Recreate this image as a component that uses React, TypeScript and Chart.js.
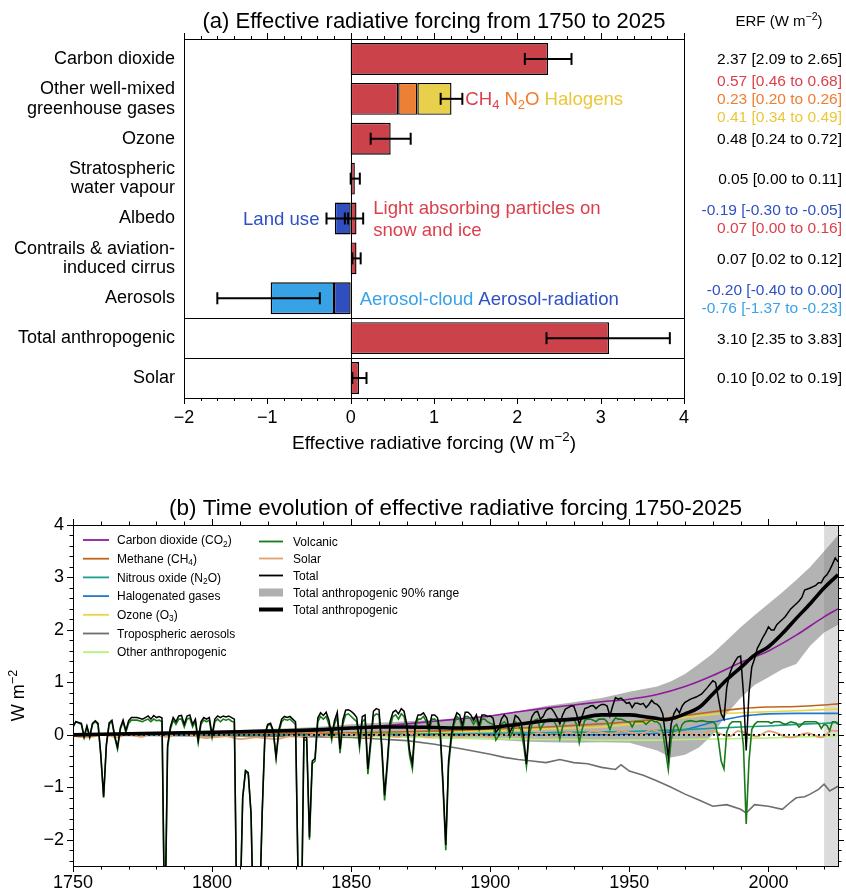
import React, { useEffect, useRef } from 'react';
import { Chart, registerables } from 'chart.js';
Chart.register(...registerables);

const FONT = '"Liberation Sans", Arial, Helvetica, sans-serif';

// ---------------- Panel (a) data ----------------
const barCategories: string[][] = [
  ['Carbon dioxide'],
  ['Other well-mixed', 'greenhouse gases'],
  ['Ozone'],
  ['Stratospheric', 'water vapour'],
  ['Albedo'],
  ['Contrails & aviation-', 'induced cirrus'],
  ['Aerosols'],
  ['Total anthropogenic'],
  ['Solar'],
];
const redValues = [2.37, 0.57, 0.48, 0.05, 0.07, 0.07, null, 3.1, 0.1];
const n2oValues = [null, 0.23, null, null, null, null, null, null, null];
const halogenValues = [null, 0.41, null, null, null, null, null, null, null];
const darkBlueValues = [null, null, null, null, -0.19, null, -0.2, null, null];
const lightBlueValues = [null, null, null, null, null, null, -0.76, null, null];

const errorRow = [0, 1, 2, 3, 4, 4, 5, 6, 7, 8];
const errorLow = [2.09, 1.08, 0.24, 0.0, -0.29, -0.07, 0.02, -1.6, 2.35, 0.02];
const errorHigh = [2.65, 1.34, 0.72, 0.11, -0.03, 0.15, 0.12, -0.37, 3.83, 0.19];

const erfRow = [0, 1, 1, 1, 2, 3, 4, 4, 5, 6, 6, 7, 8];
const erfComponent = ['co2', 'ch4', 'n2o', 'halogens', 'ozone', 'h2o', 'landUse', 'lap', 'contrails', 'aerRad', 'aerCloud', 'total', 'solar'];
const erfValue = [2.37, 0.57, 0.23, 0.41, 0.48, 0.05, -0.19, 0.07, 0.07, -0.2, -0.76, 3.1, 0.1];
const erfLow = [2.09, 0.46, 0.2, 0.34, 0.24, 0.0, -0.3, 0.0, 0.02, -0.4, -1.37, 2.35, 0.02];
const erfHigh = [2.65, 0.68, 0.26, 0.49, 0.72, 0.11, -0.05, 0.16, 0.12, 0.0, -0.23, 3.83, 0.19];

const forcingTicks = [-2, -1, 0, 1, 2, 3, 4];

// ---------------- Panel (b) data ----------------
const decadeYears = [1750, 1760, 1770, 1780, 1790, 1800, 1810, 1820, 1830, 1840, 1850, 1860, 1870, 1880, 1890, 1900,
  1910, 1920, 1930, 1940, 1950, 1960, 1970, 1980, 1990, 2000, 2010, 2020, 2025];
const co2Values = [0, 0.01, 0.01, 0.02, 0.03, 0.04, 0.05, 0.06, 0.08, 0.1, 0.13, 0.17, 0.21, 0.26, 0.31, 0.36,
  0.44, 0.51, 0.57, 0.63, 0.68, 0.77, 0.92, 1.13, 1.38, 1.6, 1.9, 2.25, 2.4];
const ch4Values = [0, 0, 0.005, 0.01, 0.01, 0.015, 0.02, 0.02, 0.025, 0.03, 0.04, 0.05, 0.06, 0.07, 0.09, 0.11,
  0.13, 0.15, 0.18, 0.21, 0.25, 0.3, 0.37, 0.44, 0.5, 0.53, 0.54, 0.57, 0.59];
const n2oSeries = [0, 0, 0, 0, 0.002, 0.003, 0.004, 0.005, 0.006, 0.008, 0.01, 0.012, 0.015, 0.018, 0.022, 0.027,
  0.033, 0.04, 0.047, 0.055, 0.065, 0.08, 0.1, 0.125, 0.15, 0.17, 0.2, 0.22, 0.24];
const halogenSeries = [0, 0, 0, 0, 0, 0, 0, 0, 0, 0, 0, 0, 0, 0, 0, 0,
  0, 0, 0, 0.002, 0.01, 0.03, 0.1, 0.24, 0.35, 0.4, 0.41, 0.41, 0.41];
const ozoneSeries = [0, 0.002, 0.004, 0.006, 0.008, 0.01, 0.012, 0.015, 0.02, 0.025, 0.03, 0.035, 0.04, 0.05, 0.06, 0.07,
  0.09, 0.11, 0.13, 0.15, 0.2, 0.26, 0.33, 0.39, 0.42, 0.44, 0.46, 0.48, 0.49];
const otherSeries = [0, -0.002, -0.004, -0.006, -0.008, -0.01, -0.012, -0.015, -0.018, -0.022, -0.03, -0.035, -0.045, -0.055, -0.065, -0.07,
  -0.08, -0.09, -0.09, -0.1, -0.1, -0.1, -0.09, -0.08, -0.07, -0.06, -0.04, -0.03, -0.02];

const aerosolSeries: [number, number][] = [
  [1750, 0], [1760, -0.005], [1770, -0.01], [1780, -0.01], [1790, -0.015], [1800, -0.02], [1810, -0.02], [1820, -0.025],
  [1830, -0.03], [1840, -0.04], [1850, -0.05], [1860, -0.08], [1870, -0.11], [1880, -0.18], [1890, -0.27], [1900, -0.37],
  [1905, -0.43], [1910, -0.47], [1915, -0.5], [1920, -0.53], [1925, -0.47], [1930, -0.53], [1935, -0.55], [1940, -0.62],
  [1945, -0.66], [1947, -0.57], [1950, -0.69], [1955, -0.77], [1960, -0.88], [1965, -1.0], [1970, -1.13], [1975, -1.24],
  [1980, -1.36], [1985, -1.33], [1990, -1.42], [1992, -1.49], [1995, -1.33], [2000, -1.36], [2005, -1.42], [2008, -1.28],
  [2010, -1.2], [2013, -1.18], [2015, -1.13], [2018, -1.04], [2020, -0.94], [2022, -1.07], [2025, -0.98],
];

const solarSeries: [number, number][] = [
  [1750, -0.02], [1755, -0.05], [1761, 0.0], [1766, -0.05], [1769, 0.01], [1775, -0.04], [1778, 0.03], [1784, -0.04],
  [1788, 0.03], [1798, -0.06], [1805, -0.03], [1810, -0.08], [1816, -0.05], [1823, -0.08], [1830, -0.01], [1833, -0.05],
  [1837, 0.02], [1843, -0.04], [1848, 0.02], [1856, -0.04], [1860, 0.01], [1867, -0.04], [1870, 0.03], [1878, -0.04],
  [1883, 0.0], [1889, -0.04], [1894, 0.0], [1901, -0.04], [1906, 0.01], [1913, -0.04], [1917, 0.03], [1923, -0.02],
  [1928, 0.04], [1933, 0.0], [1937, 0.07], [1944, 0.01], [1947, 0.08], [1954, 0.0], [1958, 0.1], [1964, -0.01],
  [1968, 0.06], [1976, -0.02], [1979, 0.08], [1986, -0.03], [1989, 0.07], [1996, -0.03], [2000, 0.07], [2008, -0.05],
  [2014, 0.03], [2019, -0.05], [2023, 0.08], [2025, 0.07],
];

const anthroSeries: [number, number][] = [
  [1750, 0], [1760, 0.01], [1770, 0.02], [1780, 0.03], [1790, 0.04], [1800, 0.05], [1810, 0.06], [1820, 0.07],
  [1830, 0.08], [1840, 0.1], [1850, 0.13], [1860, 0.15], [1870, 0.15], [1880, 0.14], [1890, 0.13], [1900, 0.14],
  [1910, 0.2], [1920, 0.27], [1930, 0.3], [1940, 0.38], [1950, 0.38], [1955, 0.35], [1960, 0.31], [1963, 0.29],
  [1966, 0.32], [1970, 0.4], [1975, 0.52], [1980, 0.78], [1985, 1.05], [1990, 1.28], [1995, 1.52], [2000, 1.68],
  [2005, 1.93], [2010, 2.22], [2015, 2.5], [2020, 2.8], [2025, 3.05],
];

// [year, upper 95th, lower 5th]
const anthroRange: [number, number, number][] = [
  [1750, 0, 0], [1760, 0.01, 0], [1770, 0.02, 0], [1780, 0.03, 0], [1790, 0.05, 0], [1800, 0.07, 0], [1810, 0.09, 0],
  [1820, 0.11, 0], [1830, 0.13, 0], [1840, 0.16, -0.01], [1850, 0.2, -0.02], [1860, 0.23, -0.04], [1870, 0.26, -0.05],
  [1880, 0.29, -0.07], [1890, 0.32, -0.08], [1900, 0.36, -0.09], [1910, 0.45, -0.12], [1920, 0.55, -0.14],
  [1930, 0.62, -0.15], [1940, 0.7, -0.14], [1950, 0.82, -0.15], [1960, 0.92, -0.3], [1965, 1.02, -0.43],
  [1970, 1.16, -0.38], [1975, 1.35, -0.24], [1980, 1.55, 0.0], [1985, 1.8, 0.4], [1990, 2.05, 0.7], [1995, 2.28, 0.95],
  [2000, 2.5, 1.1], [2005, 2.72, 1.25], [2010, 2.95, 1.35], [2015, 3.2, 1.7], [2020, 3.5, 1.95], [2025, 3.8, 2.1],
];

const volcanicSeries: [number, number][] = [
  [1750, 0.15], [1751, 0.25], [1753, 0.2], [1754, -0.05], [1755, 0.15], [1756, -0.05], [1757, 0.2], [1758, 0.25],
  [1759, 0.2], [1760, -0.4], [1761, -1.2], [1762, -0.2], [1763, 0.2], [1764, 0.25], [1765, -0.05], [1766, -0.27],
  [1767, 0.1], [1768, 0.25], [1769, 0.05], [1770, 0.22], [1771, 0.28], [1773, 0.28], [1775, 0.25], [1776, 0.28],
  [1777, 0.3], [1778, 0.25], [1779, 0.3], [1780, 0.27], [1781, 0.28], [1782, 0.25], [1783, -4.0], [1784, -0.25],
  [1785, 0.1], [1786, 0.28], [1787, 0.2], [1788, 0.3], [1789, 0.3], [1790, 0.15], [1791, 0.3], [1792, 0.32],
  [1793, 0.15], [1794, 0.25], [1795, -0.15], [1796, 0.2], [1797, 0.28], [1798, 0.25], [1799, 0.28], [1800, -0.05],
  [1801, 0.25], [1802, 0.3], [1803, 0.25], [1804, 0.3], [1805, 0.28], [1806, 0.3], [1807, 0.26], [1808, 0.24],
  [1809, -4.0], [1810, -3.5], [1811, -1.2], [1812, -0.7], [1813, -0.75], [1814, -1.5], [1815, -4.0], [1816, -4.0],
  [1817, -3.5], [1818, -1.5], [1819, 0.0], [1820, 0.18], [1821, 0.2], [1822, 0.05], [1823, -0.45], [1824, 0.05],
  [1825, 0.25], [1826, 0.3], [1827, 0.28], [1828, 0.3], [1829, 0.25], [1830, 0.2], [1831, -3.0], [1832, -4.0],
  [1833, -0.1], [1834, -0.1], [1835, -2.0], [1836, -0.55], [1837, -0.5], [1838, 0.25], [1839, 0.35], [1840, 0.3],
  [1841, 0.35], [1842, 0.2], [1843, -0.1], [1844, 0.2], [1845, 0.35], [1846, -0.35], [1847, 0.2], [1848, 0.38],
  [1849, 0.4], [1850, 0.35], [1851, 0.3], [1852, 0.25], [1853, -0.25], [1854, 0.25], [1855, 0.3], [1856, -0.75],
  [1857, -0.2], [1858, 0.35], [1859, 0.4], [1860, 0.38], [1861, -0.3], [1862, -1.25], [1863, -0.6], [1864, 0.15],
  [1865, 0.35], [1866, 0.38], [1867, 0.3], [1868, 0.4], [1869, 0.35], [1870, 0.1], [1871, -0.4], [1872, -0.65],
  [1873, 0.1], [1874, 0.3], [1875, 0.3], [1876, 0.35], [1877, 0.25], [1878, 0.05], [1879, 0.3], [1880, 0.3],
  [1881, 0.25], [1882, 0.0], [1883, -1.0], [1884, -2.2], [1885, -0.6], [1886, -0.1], [1887, 0.2], [1888, 0.35],
  [1889, 0.3], [1890, 0.1], [1891, 0.35], [1892, 0.35], [1893, 0.3], [1894, 0.2], [1895, 0.3], [1896, 0.1],
  [1897, 0.3], [1898, 0.3], [1899, 0.25], [1900, 0.22], [1901, 0.2], [1902, -0.1], [1903, -0.02], [1904, 0.2],
  [1905, 0.25], [1906, 0.2], [1907, -0.05], [1908, 0.05], [1909, 0.25], [1910, 0.2], [1911, 0.1], [1912, -0.2],
  [1913, -0.6], [1914, 0.0], [1915, 0.2], [1916, 0.28], [1917, 0.3], [1918, 0.1], [1919, 0.2], [1920, 0.28],
  [1921, 0.3], [1922, 0.3], [1923, 0.25], [1924, 0.15], [1925, -0.08], [1926, 0.15], [1927, 0.28], [1928, 0.3],
  [1929, 0.3], [1930, 0.3], [1931, 0.2], [1932, -0.15], [1933, 0.1], [1934, 0.28], [1935, 0.3], [1936, 0.3],
  [1937, 0.28], [1938, 0.25], [1939, 0.3], [1940, 0.3], [1941, 0.3], [1942, 0.25], [1943, 0.1], [1944, 0.25],
  [1945, 0.32], [1946, 0.3], [1947, 0.3], [1948, 0.28], [1949, 0.25], [1950, 0.25], [1951, 0.15], [1952, 0.25],
  [1953, 0.25], [1954, 0.25], [1955, 0.25], [1956, 0.2], [1957, 0.25], [1958, 0.28], [1959, 0.25], [1960, 0.25],
  [1961, 0.2], [1962, 0.05], [1963, -0.3], [1964, -0.66], [1965, -0.1], [1966, 0.15], [1967, 0.2], [1968, 0.05],
  [1969, 0.2], [1970, 0.25], [1972, 0.27], [1974, 0.25], [1976, 0.27], [1978, 0.25], [1980, 0.25], [1981, 0.2],
  [1982, -0.1], [1983, -0.5], [1984, -0.65], [1985, 0.05], [1986, 0.2], [1987, 0.25], [1988, 0.25], [1989, 0.25],
  [1990, 0.25], [1991, -0.2], [1992, -1.7], [1993, -0.5], [1994, 0.1], [1995, 0.2], [1996, 0.25], [1997, 0.25],
  [1998, 0.25], [1999, 0.25], [2000, 0.25], [2001, 0.22], [2002, 0.25], [2003, 0.25], [2004, 0.25], [2005, 0.22],
  [2006, 0.2], [2008, 0.25], [2010, 0.22], [2011, 0.15], [2012, 0.2], [2013, 0.25], [2015, 0.25], [2017, 0.25],
  [2018, 0.22], [2019, 0.12], [2020, 0.2], [2021, 0.18], [2022, 0.08], [2023, 0.25], [2024, 0.25], [2025, 0.2],
];

const totalSeries: [number, number][] = [
  [1750, 0.15], [1751, 0.25], [1753, 0.22], [1754, -0.03], [1755, 0.17], [1756, -0.03], [1757, 0.22], [1758, 0.27],
  [1759, 0.22], [1760, -0.38], [1761, -1.18], [1762, -0.18], [1763, 0.23], [1764, 0.28], [1765, -0.02], [1766, -0.24],
  [1767, 0.13], [1768, 0.28], [1769, 0.08], [1770, 0.27], [1771, 0.33], [1773, 0.33], [1775, 0.3], [1776, 0.33],
  [1777, 0.36], [1778, 0.3], [1779, 0.37], [1780, 0.33], [1781, 0.35], [1782, 0.32], [1783, -3.9], [1784, -0.2],
  [1785, 0.15], [1786, 0.33], [1787, 0.25], [1788, 0.36], [1789, 0.37], [1790, 0.2], [1791, 0.36], [1792, 0.38],
  [1793, 0.2], [1794, 0.3], [1795, -0.1], [1796, 0.25], [1797, 0.33], [1798, 0.3], [1799, 0.33], [1800, 0.0],
  [1801, 0.3], [1802, 0.36], [1803, 0.33], [1804, 0.36], [1805, 0.34], [1806, 0.36], [1807, 0.33], [1808, 0.3],
  [1809, -4.0], [1810, -3.5], [1811, -1.2], [1812, -0.68], [1813, -0.72], [1814, -1.5], [1815, -4.0], [1816, -4.0],
  [1817, -3.5], [1818, -1.5], [1819, 0.02], [1820, 0.2], [1821, 0.22], [1822, 0.08], [1823, -0.42], [1824, 0.1],
  [1825, 0.3], [1826, 0.35], [1827, 0.33], [1828, 0.35], [1829, 0.3], [1830, 0.25], [1831, -3.0], [1832, -4.0],
  [1833, -0.05], [1834, -0.05], [1835, -1.95], [1836, -0.5], [1837, -0.45], [1838, 0.32], [1839, 0.42], [1840, 0.37],
  [1841, 0.43], [1842, 0.28], [1843, -0.02], [1844, 0.27], [1845, 0.43], [1846, -0.27], [1847, 0.28], [1848, 0.47],
  [1849, 0.48], [1850, 0.45], [1851, 0.4], [1852, 0.33], [1853, -0.15], [1854, 0.35], [1855, 0.38], [1856, -0.65],
  [1857, -0.1], [1858, 0.45], [1859, 0.5], [1860, 0.48], [1861, -0.2], [1862, -1.15], [1863, -0.5], [1864, 0.25],
  [1865, 0.43], [1866, 0.47], [1867, 0.4], [1868, 0.5], [1869, 0.45], [1870, 0.2], [1871, -0.3], [1872, -0.55],
  [1873, 0.2], [1874, 0.38], [1875, 0.38], [1876, 0.42], [1877, 0.33], [1878, 0.13], [1879, 0.38], [1880, 0.38],
  [1881, 0.33], [1882, 0.08], [1883, -0.9], [1884, -2.1], [1885, -0.5], [1886, 0.0], [1887, 0.28], [1888, 0.42],
  [1889, 0.38], [1890, 0.18], [1891, 0.43], [1892, 0.43], [1893, 0.38], [1894, 0.28], [1895, 0.38], [1896, 0.18],
  [1897, 0.38], [1898, 0.38], [1899, 0.35], [1900, 0.36], [1901, 0.32], [1902, 0.05], [1903, 0.11], [1904, 0.3],
  [1905, 0.38], [1906, 0.32], [1907, 0.04], [1908, 0.15], [1909, 0.37], [1910, 0.33], [1911, 0.25], [1912, -0.05],
  [1913, -0.56], [1914, 0.15], [1915, 0.35], [1916, 0.43], [1917, 0.45], [1918, 0.3], [1919, 0.35], [1920, 0.46],
  [1921, 0.5], [1922, 0.5], [1923, 0.43], [1924, 0.33], [1925, 0.21], [1926, 0.38], [1927, 0.49], [1928, 0.52],
  [1929, 0.55], [1930, 0.55], [1931, 0.4], [1932, 0.2], [1933, 0.35], [1934, 0.5], [1935, 0.52], [1936, 0.55],
  [1937, 0.56], [1938, 0.5], [1939, 0.55], [1940, 0.58], [1941, 0.58], [1942, 0.55], [1943, 0.36], [1944, 0.55],
  [1945, 0.71], [1946, 0.68], [1947, 0.7], [1948, 0.65], [1949, 0.6], [1950, 0.62], [1951, 0.52], [1952, 0.6],
  [1953, 0.6], [1954, 0.58], [1955, 0.6], [1956, 0.52], [1957, 0.58], [1958, 0.66], [1959, 0.6], [1960, 0.58],
  [1961, 0.52], [1962, 0.4], [1963, 0.0], [1964, -0.43], [1965, 0.2], [1966, 0.4], [1967, 0.5], [1968, 0.42],
  [1969, 0.55], [1970, 0.62], [1972, 0.68], [1974, 0.72], [1976, 0.78], [1978, 0.9], [1980, 1.03], [1981, 1.0],
  [1982, 0.7], [1983, 0.4], [1984, 0.3], [1985, 0.9], [1986, 1.15], [1987, 1.3], [1988, 1.4], [1989, 1.48],
  [1990, 1.5], [1991, 0.8], [1992, -0.3], [1993, 0.8], [1994, 1.29], [1995, 1.45], [1996, 1.65], [1997, 1.75],
  [1998, 1.86], [1999, 1.95], [2000, 2.06], [2001, 2.0], [2002, 2.0], [2003, 2.1], [2004, 2.15], [2005, 2.2],
  [2006, 2.25], [2008, 2.4], [2010, 2.5], [2011, 2.55], [2012, 2.62], [2013, 2.76], [2015, 2.8], [2017, 2.85],
  [2018, 2.9], [2019, 2.9], [2020, 3.0], [2021, 3.05], [2022, 3.14], [2023, 3.25], [2024, 3.37], [2025, 3.3],
];

const yearTicks = [1750, 1800, 1850, 1900, 1950, 2000];
const wTicks = [-2, -1, 0, 1, 2, 3, 4];
const shadeStartYear = 2020;

const legendCol1 = ['Carbon dioxide (CO_{2})', 'Methane (CH_{4})', 'Nitrous oxide (N_{2}O)', 'Halogenated gases', 'Ozone (O_{3})', 'Tropospheric aerosols', 'Other anthropogenic'];
const legendCol2 = ['Volcanic', 'Solar', 'Total', 'Total anthropogenic 90% range', 'Total anthropogenic'];

// ---------------- styles ----------------
const COL = {
  red: '#cc424b', orange: '#ec8034', yellow: '#e8d04c', darkBlue: '#2f4fbf', lightBlue: '#37a2e6',
};
const ERF_TEXT: Record<string, string> = {
  co2: '#000', ch4: '#dc3f4b', n2o: '#f07d2c', halogens: '#ecc73a', ozone: '#000', h2o: '#000',
  landUse: '#2f50c4', lap: '#dc3f4b', contrails: '#000', aerRad: '#2f50c4', aerCloud: '#38a2e8', total: '#000', solar: '#000',
};
const LINE = {
  co2: '#8e1b9b', ch4: '#c0631b', n2o: '#1b9e8e', halo: '#1f78d2', o3: '#e8d640', aer: '#6e6e6e', other: '#b3f27a',
  volc: '#187a18', solar: '#e2a06c', total: '#000', band: 'rgba(120,120,120,0.56)',
};

const A_H = 460, A_LEFT = 184, A_RIGHT = 684, A_TOP = 39, A_BOTTOM = 398;
const B_H = 431, B_LEFT = 73, B_RIGHT = 838, B_TOP = 65, B_BOTTOM = 406;

// ---------------- helpers ----------------
const minus = (v: number) => (v < 0 ? '\u2212' + String(Math.abs(v)) : String(v));

type Part = { t: string; k: number };
function parseRich(s: string): Part[] {
  const out: Part[] = [];
  const re = /([_^])\{([^}]*)\}/g;
  let last = 0;
  let m: RegExpExecArray | null;
  while ((m = re.exec(s))) {
    if (m.index > last) out.push({ t: s.slice(last, m.index), k: 0 });
    out.push({ t: m[2], k: m[1] === '^' ? 1 : -1 });
    last = re.lastIndex;
  }
  if (last < s.length) out.push({ t: s.slice(last), k: 0 });
  return out;
}
function richWidth(ctx: CanvasRenderingContext2D, s: string, size: number) {
  let w = 0;
  for (const p of parseRich(s)) {
    ctx.font = `${p.k ? size * 0.7 : size}px ${FONT}`;
    w += ctx.measureText(p.t).width;
  }
  return w;
}
function drawRich(ctx: CanvasRenderingContext2D, s: string, x: number, y: number, size: number, color: string, align = 'left') {
  const w = richWidth(ctx, s, size);
  let cx = align === 'left' ? x : align === 'center' ? x - w / 2 : x - w;
  ctx.save();
  ctx.fillStyle = color;
  ctx.textAlign = 'left';
  ctx.textBaseline = 'alphabetic';
  const base = y + size * 0.35;
  for (const p of parseRich(s)) {
    ctx.font = `${p.k ? size * 0.7 : size}px ${FONT}`;
    const dy = p.k === 1 ? -size * 0.4 : p.k === -1 ? size * 0.2 : 0;
    ctx.fillText(p.t, cx, base + dy);
    cx += ctx.measureText(p.t).width;
  }
  ctx.restore();
  return w;
}
function line(ctx: CanvasRenderingContext2D, x1: number, y1: number, x2: number, y2: number) {
  ctx.beginPath();
  ctx.moveTo(x1, y1);
  ctx.lineTo(x2, y2);
  ctx.stroke();
}

// ---------------- Panel (a) ----------------
function PanelA() {
  const ref = useRef<HTMLCanvasElement>(null);
  useEffect(() => {
    const decor = {
      id: 'panelADecor',
      afterDraw(chart: any) {
        const { ctx, chartArea: a } = chart;
        const xs = chart.scales.x, ys = chart.scales.y;
        ctx.save();
        ctx.strokeStyle = '#000';
        ctx.lineWidth = 1;
        for (const k of [6.5, 7.5]) {
          const y = Math.round(ys.getPixelForValue(k)) + 0.5;
          line(ctx, a.left, y, a.right, y);
        }
        const x0 = Math.round(xs.getPixelForValue(0)) + 0.5;
        line(ctx, x0, a.top, x0, a.bottom);
        ctx.strokeRect(Math.round(a.left) + 0.5, Math.round(a.top) + 0.5, Math.round(a.right - a.left), Math.round(a.bottom - a.top));
        for (let i = 0; i <= 30; i++) {
          const v = -2 + i * 0.2;
          const x = Math.round(xs.getPixelForValue(v)) + 0.5;
          const len = i % 5 === 0 ? 6 : 3;
          line(ctx, x, a.top, x, a.top - len);
          line(ctx, x, a.bottom, x, a.bottom + len);
        }
        ctx.fillStyle = '#000';
        ctx.font = `18px ${FONT}`;
        ctx.textAlign = 'center';
        ctx.textBaseline = 'middle';
        for (const v of forcingTicks) ctx.fillText(minus(v), xs.getPixelForValue(v), a.bottom + 20);
        ctx.textAlign = 'right';
        barCategories.forEach((lines, i) => {
          const yc = ys.getPixelForValue(i);
          lines.forEach((t, j) => ctx.fillText(t, a.left - 9, yc + (j - (lines.length - 1) / 2) * 19.5));
        });
        ctx.lineWidth = 2;
        ctx.strokeStyle = '#000';
        errorRow.forEach((r, i) => {
          const y = ys.getPixelForValue(r);
          const x1 = xs.getPixelForValue(errorLow[i]);
          const x2 = xs.getPixelForValue(errorHigh[i]);
          line(ctx, x1, y, x2, y);
          line(ctx, x1, y - 6, x1, y + 6);
          line(ctx, x2, y - 6, x2, y + 6);
        });
        const counts: Record<number, number> = {};
        erfRow.forEach((r) => (counts[r] = (counts[r] || 0) + 1));
        const seen: Record<number, number> = {};
        erfRow.forEach((r, i) => {
          const j = seen[r] || 0;
          seen[r] = j + 1;
          const y = ys.getPixelForValue(r) + (j - (counts[r] - 1) / 2) * 18;
          const s = `${erfValue[i].toFixed(2)} [${erfLow[i].toFixed(2)} to ${erfHigh[i].toFixed(2)}]`;
          drawRich(ctx, s, 842, y, 15.5, ERF_TEXT[erfComponent[i]], 'right');
        });
        drawRich(ctx, 'ERF (W m^{\u22122})', 779, 21, 15, '#000', 'center');
        drawRich(ctx, '(a) Effective radiative forcing from 1750 to 2025', (a.left + a.right) / 2, 20, 22, '#000', 'center');
        drawRich(ctx, 'Effective radiative forcing (W m^{\u22122})', (a.left + a.right) / 2, a.bottom + 44, 19, '#000', 'center');
        let ax = xs.getPixelForValue(errorHigh[1]) + 3;
        const yW = ys.getPixelForValue(1);
        const AS = 18.6;
        ax += drawRich(ctx, 'CH_{4}', ax, yW, AS, ERF_TEXT.ch4);
        ax += 5;
        ax += drawRich(ctx, 'N_{2}O', ax, yW, AS, ERF_TEXT.n2o);
        ax += 5;
        drawRich(ctx, 'Halogens', ax, yW, AS, ERF_TEXT.halogens);
        const yAl = ys.getPixelForValue(4);
        drawRich(ctx, 'Land use', xs.getPixelForValue(errorLow[4]) - 7, yAl, AS, ERF_TEXT.landUse, 'right');
        const lx = xs.getPixelForValue(errorHigh[5]) + 10;
        drawRich(ctx, 'Light absorbing particles on', lx, yAl - 11, AS, ERF_TEXT.lap);
        drawRich(ctx, 'snow and ice', lx, yAl + 11, AS, ERF_TEXT.lap);
        const yAe = ys.getPixelForValue(6);
        let bx = xs.getPixelForValue(0) + 9;
        bx += drawRich(ctx, 'Aerosol-cloud', bx, yAe, AS, ERF_TEXT.aerCloud);
        bx += 5;
        drawRich(ctx, 'Aerosol-radiation', bx, yAe, AS, ERF_TEXT.aerRad);
        ctx.restore();
      },
    };
    const common = { borderColor: '#000', borderWidth: 1.4, borderSkipped: false, barPercentage: 0.8, categoryPercentage: 1 };
    const chart = new Chart(ref.current as HTMLCanvasElement, {
      type: 'bar',
      data: {
        labels: barCategories,
        datasets: [
          { data: redValues, backgroundColor: COL.red, ...common },
          { data: n2oValues, backgroundColor: COL.orange, ...common },
          { data: halogenValues, backgroundColor: COL.yellow, ...common },
          { data: darkBlueValues, backgroundColor: COL.darkBlue, ...common },
          { data: lightBlueValues, backgroundColor: COL.lightBlue, ...common },
        ] as any,
      },
      options: {
        indexAxis: 'y',
        animation: false,
        responsive: false,
        events: [],
        layout: { padding: { left: 0, right: 846 - A_RIGHT, top: A_TOP, bottom: 0 } },
        plugins: { legend: { display: false }, tooltip: { enabled: false } },
        scales: {
          x: {
            type: 'linear', stacked: true, min: -2, max: 4,
            grid: { display: false, drawTicks: false }, border: { display: false },
            ticks: { display: false },
            afterFit: (s: any) => { s.height = A_H - A_BOTTOM; },
          },
          y: {
            type: 'category', stacked: true,
            grid: { display: false, drawTicks: false }, border: { display: false },
            ticks: { display: false },
            afterFit: (s: any) => { s.width = A_LEFT; },
          },
        },
      } as any,
      plugins: [decor],
    });
    return () => chart.destroy();
  }, []);
  return <canvas ref={ref} width={846} height={A_H} style={{ position: 'absolute', left: 0, top: 0, display: 'block' }} />;
}

// ---------------- Panel (b) ----------------
const pts = (ys: number[]) => decadeYears.map((x, i) => ({ x, y: ys[i] }));
const tup = (arr: [number, number][]) => arr.map(([x, y]) => ({ x, y }));

function PanelB() {
  const ref = useRef<HTMLCanvasElement>(null);
  useEffect(() => {
    const decor = {
      id: 'panelBDecor',
      beforeDatasetsDraw(chart: any) {
        const { ctx, chartArea: a } = chart;
        const x0 = chart.scales.x.getPixelForValue(shadeStartYear);
        ctx.save();
        ctx.fillStyle = '#dcdcdc';
        ctx.fillRect(x0, a.top, a.right - x0, a.bottom - a.top);
        ctx.restore();
      },
      afterDatasetsDraw(chart: any) {
        const { ctx, chartArea: a } = chart;
        const y0 = chart.scales.y.getPixelForValue(0);
        ctx.save();
        ctx.strokeStyle = '#000';
        ctx.lineWidth = 1.6;
        ctx.setLineDash([2, 3]);
        line(ctx, a.left, y0, a.right, y0);
        ctx.restore();
      },
      afterDraw(chart: any) {
        const { ctx, chartArea: a } = chart;
        const xs = chart.scales.x, ys = chart.scales.y;
        ctx.save();
        ctx.strokeStyle = '#000';
        ctx.lineWidth = 1;
        ctx.strokeRect(Math.round(a.left) + 0.5, Math.round(a.top) + 0.5, Math.round(a.right - a.left), Math.round(a.bottom - a.top));
        for (let yr = 1750; yr <= 2025; yr += 10) {
          const x = Math.round(xs.getPixelForValue(yr)) + 0.5;
          const len = (yr % 50 === 0) ? 6 : 3.5;
          line(ctx, x, a.top, x, a.top - len);
          line(ctx, x, a.bottom, x, a.bottom + len);
        }
        for (let i = -12; i <= 20; i++) {
          const v = i * 0.2;
          const y = Math.round(ys.getPixelForValue(v)) + 0.5;
          const len = i % 5 === 0 ? 6 : 3.5;
          line(ctx, a.left, y, a.left - len, y);
          line(ctx, a.right, y, a.right + len, y);
        }
        ctx.fillStyle = '#000';
        ctx.font = `18px ${FONT}`;
        ctx.textBaseline = 'middle';
        ctx.textAlign = 'center';
        for (const yr of yearTicks) ctx.fillText(String(yr), xs.getPixelForValue(yr), a.bottom + 17);
        ctx.textAlign = 'right';
        for (const v of wTicks) ctx.fillText(minus(v), a.left - 9, ys.getPixelForValue(v));
        drawRich(ctx, '(b) Time evolution of effective radiative forcing 1750-2025', (a.left + a.right) / 2, a.top - 18, 22.5, '#000', 'center');
        ctx.save();
        ctx.translate(18, (a.top + a.bottom) / 2);
        ctx.rotate(-Math.PI / 2);
        drawRich(ctx, 'W m^{\u22122}', 0, 0, 18, '#000', 'center');
        ctx.restore();
        const c1 = [LINE.co2, LINE.ch4, LINE.n2o, LINE.halo, LINE.o3, LINE.aer, LINE.other];
        legendCol1.forEach((t, i) => {
          const y = a.top + 15 + i * 18.7;
          ctx.strokeStyle = c1[i];
          ctx.lineWidth = 1.8;
          line(ctx, a.left + 10, y, a.left + 36, y);
          drawRich(ctx, t, a.left + 44, y, 12, '#000');
        });
        const c2 = [LINE.volc, LINE.solar, LINE.total, LINE.band, LINE.total];
        legendCol2.forEach((t, i) => {
          const y = a.top + 16.5 + i * 17;
          if (i === 3) {
            ctx.fillStyle = '#b0b0b0';
            ctx.fillRect(a.left + 186, y - 4, 24, 8);
          } else {
            ctx.strokeStyle = c2[i];
            ctx.lineWidth = i === 4 ? 4 : 1.8;
            line(ctx, a.left + 186, y, a.left + 210, y);
          }
          drawRich(ctx, t, a.left + 220, y, 12, '#000');
        });
        ctx.restore();
      },
    };
    const ln = (data: any[], color: string, width: number, smooth = false) => ({
      data, borderColor: color, borderWidth: width, pointRadius: 0, fill: false,
      tension: 0, cubicInterpolationMode: smooth ? 'monotone' : 'default',
    });
    const chart = new Chart(ref.current as HTMLCanvasElement, {
      type: 'line',
      data: {
        datasets: [
          ln(tup(anthroSeries), '#000', 3.6, true),
          ln(tup(totalSeries), '#000', 1.5),
          ln(tup(volcanicSeries), LINE.volc, 1.6),
          ln(tup(solarSeries), LINE.solar, 1.8, true),
          ln(pts(co2Values), LINE.co2, 1.6, true),
          ln(pts(ch4Values), LINE.ch4, 1.6, true),
          ln(pts(n2oSeries), LINE.n2o, 1.6, true),
          ln(pts(halogenSeries), LINE.halo, 1.6, true),
          ln(pts(ozoneSeries), LINE.o3, 1.6, true),
          ln(tup(aerosolSeries), LINE.aer, 1.6),
          ln(pts(otherSeries), LINE.other, 1.6, true),
          { data: anthroRange.map(([x, hi]) => ({ x, y: hi })), borderWidth: 0, pointRadius: 0, fill: false, borderColor: 'rgba(0,0,0,0)' },
          { data: anthroRange.map(([x, , lo]) => ({ x, y: lo })), borderWidth: 0, pointRadius: 0, fill: '-1', backgroundColor: LINE.band, borderColor: 'rgba(0,0,0,0)' },
        ] as any,
      },
      options: {
        animation: false,
        responsive: false,
        events: [],
        layout: { padding: { left: 0, right: 846 - B_RIGHT, top: B_TOP, bottom: 0 } },
        plugins: { legend: { display: false }, tooltip: { enabled: false }, filler: { propagate: false } },
        scales: {
          x: {
            type: 'linear', min: 1750, max: 2025,
            grid: { display: false, drawTicks: false }, border: { display: false },
            ticks: { display: false },
            afterFit: (s: any) => { s.height = B_H - B_BOTTOM; },
          },
          y: {
            type: 'linear', min: -2.5, max: 4,
            grid: { display: false, drawTicks: false }, border: { display: false },
            ticks: { display: false },
            afterFit: (s: any) => { s.width = B_LEFT; },
          },
        },
      } as any,
      plugins: [decor],
    });
    return () => chart.destroy();
  }, []);
  return <canvas ref={ref} width={846} height={B_H} style={{ position: 'absolute', left: 0, top: A_H, display: 'block' }} />;
}

export default function App() {
  return (
    <div style={{ position: 'absolute', left: 0, top: 0, width: 846, height: 891, background: '#fff', overflow: 'hidden' }}>
      <PanelA />
      <PanelB />
    </div>
  );
}
